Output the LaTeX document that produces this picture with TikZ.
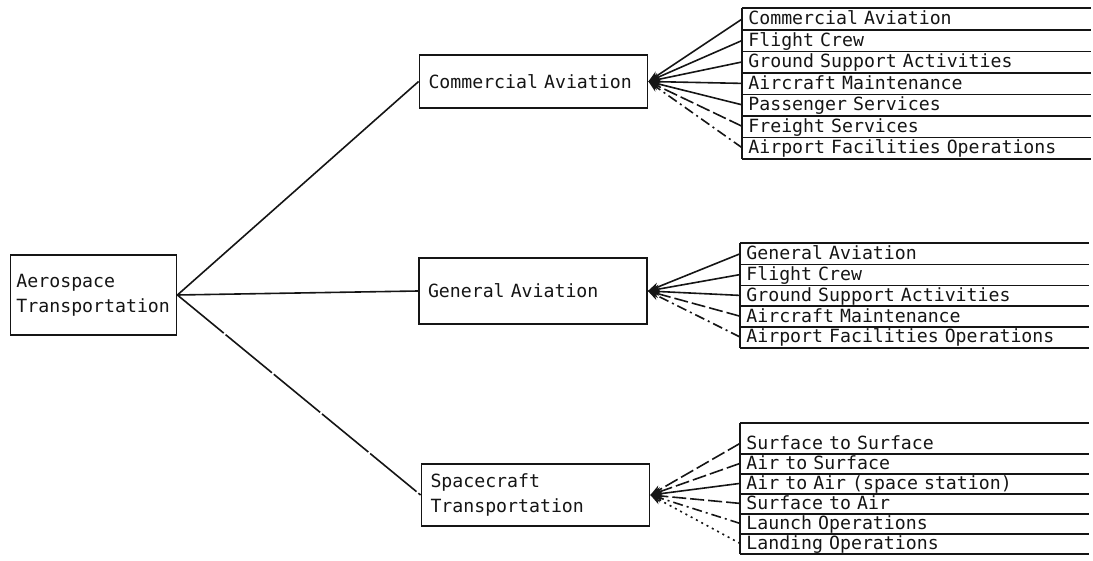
\documentclass[tikz,border=0pt]{standalone}
\usepackage{fontspec}
\setmonofont{DejaVu Sans Mono}
\usepackage{xcolor}
\usepackage{tikz}
\usetikzlibrary{arrows.meta}
\definecolor{ink}{HTML}{151515}
\newcommand{\tw}{\ttfamily\fontsize{9.1}{12.5}\selectfont}
\tikzset{
  box/.style={draw=ink,line width=0.9pt,align=left,text width=105pt,inner xsep=4.5pt,inner ysep=0pt,font=\tw,text=ink},
  item/.style={anchor=north west,minimum width=174pt,text width=168pt,inner xsep=3pt,inner ysep=0pt,align=left,text height=6.5pt,text depth=0.6pt,font=\tw,text=ink},
  rule/.style={line width=0.8pt,ink},
  lnk/.style={line width=0.8pt,ink,-{Stealth[length=2mm,width=1.5mm]}},
  lnkd/.style={lnk,dash pattern=on 7pt off 2pt},
  lnkdd/.style={lnk,dash pattern=on 5pt off 2pt on 1pt off 2pt},
  lnkdt/.style={lnk,dash pattern=on 1pt off 2pt}
}

\begin{document}
\begin{tikzpicture}[x=0.5pt,y=-0.5pt]
\useasboundingbox (0,0) rectangle (1093,561);
% boxes
\node[box,text width=77pt,inner xsep=3pt,minimum height=40pt] (aero) at (93.5,295) {Aerospace\\Transportation};
\node[box,minimum height=26.5pt] (comm) at (533.5,81.5) {Commercial Aviation};
\node[box,minimum height=33pt] (gen) at (533,291) {General Aviation};
\node[box,minimum height=31pt] (space) at (535.5,495) {Spacecraft\\Transportation};
\draw[line width=0.8pt,ink] (aero.east) -- (comm.west);
\draw[line width=0.8pt,ink] (aero.east) -- (gen.west);
\draw[line width=0.8pt,ink,dash pattern=on 30pt off 1.2pt] (aero.east) -- (space.west);
% commercial list
\foreach \t [count=\i] in {Commercial Aviation,Flight Crew,Ground Support Activities,Aircraft Maintenance,Passenger Services,Freight Services,Airport Facilities Operations}
  \node[item,minimum height=10.7pt] (c\i) at (742,{8+21.43*(\i-1)}) {\t};
\draw[rule] (c1.north west) -- (c1.north east);
\foreach \i in {1,...,7} \draw[rule] (c\i.south west) -- (c\i.south east);
\draw[rule] (c1.north west) -- (c7.south west);
\foreach \i/\s in {1/lnk,2/lnk,3/lnk,4/lnk,5/lnk,6/lnkd,7/lnkdd} \draw[\s] (c\i.west) -- (comm.east);
% general list
\foreach \t [count=\i] in {General Aviation,Flight Crew,Ground Support Activities,Aircraft Maintenance,Airport Facilities Operations}
  \node[item,minimum height=10.4pt] (g\i) at (740,{243+20.8*(\i-1)}) {\t};
\draw[rule] (g1.north west) -- (g1.north east);
\foreach \i in {1,...,5} \draw[rule] (g\i.south west) -- (g\i.south east);
\draw[rule] (g1.north west) -- (g5.south west);
\foreach \i/\s in {1/lnk,2/lnk,3/lnk,4/lnkd,5/lnkdd} \draw[\s] (g\i.west) -- (gen.east);
% spacecraft list
\foreach \t [count=\i] in {Surface to Surface,Air to Surface,Air to Air (space station),Surface to Air,Launch Operations,Landing Operations}
  \node[item,minimum height=10pt] (s\i) at (740,{433+20*(\i-1)}) {\t};
\draw[rule] (s1.north west) ++(0,-10) coordinate (stop) -- ++(349,0);
\foreach \i in {1,...,6} \draw[rule] (s\i.south west) -- (s\i.south east);
\draw[rule] (stop) -- (s6.south west);
\foreach \i/\s in {1/lnkd,2/lnkd,3/lnk,4/lnkd,5/lnkdd,6/lnkdt} \draw[\s] (s\i.west) -- (space.east);
\end{tikzpicture}
\end{document}
